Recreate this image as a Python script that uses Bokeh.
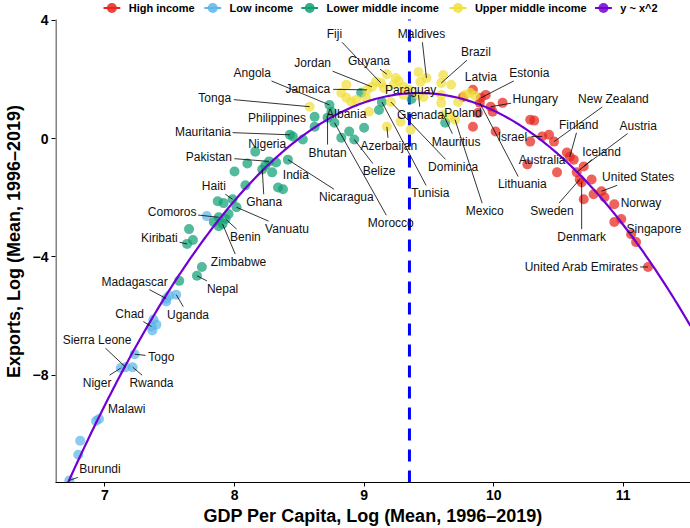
import numpy as np
from bokeh.plotting import figure
from bokeh.models import Range1d, FixedTicker
from bokeh.core.properties import value
from bokeh.embed import file_html
from bokeh.resources import INLINE

# ---------------- data ----------------
low_x = [6.725, 6.794, 6.809, 6.931, 6.954, 7.122, 7.160, 7.214, 7.229, 7.374, 7.397, 7.366, 7.359, 7.473, 7.496, 7.550, 7.473, 7.786]
low_y = [-11.56, -10.69, -10.22, -9.55, -9.48, -7.76, -7.73, -7.73, -7.29, -6.12, -6.29, -6.49, -6.35, -5.41, -5.31, -5.28, -5.51, -2.62]
low_country = ["Burundi", "", "", "", "Malawi", "Niger", "Sierra Leone", "Rwanda", "Togo", "", "", "", "Chad", "Madagascar", "", "Uganda", "", ""]

lmi_x = [7.573, 7.710, 7.748, 7.649, 7.679, 7.634, 7.840, 7.878, 7.908, 7.931, 7.954, 7.878, 7.870, 7.916, 7.985, 8.015,
         8.084, 8.000, 8.099, 8.214, 8.237, 8.267, 8.321, 8.290, 8.336, 8.374, 8.427, 8.450, 8.160, 8.412, 8.527, 8.618,
         8.618, 8.733, 8.718, 8.748, 8.771, 8.885, 8.924, 8.824, 9.000, 8.977, 9.115, 9.137, 9.366, 9.626]
lmi_y = [-4.81, -4.64, -4.34, -3.06, -3.43, -3.56, -2.82, -2.66, -2.89, -2.72, -2.55, -2.96, -2.12, -2.18, -2.05, -2.32,
         -1.58, -1.11, -0.84, -1.04, -0.91, -0.77, -0.81, -1.14, -1.65, -1.71, 0.13, 0.07, -0.44, -0.71, -0.03, 0.74,
         0.40, 1.14, 0.71, 0.91, 0.54, 0.24, -0.03, 0.03, 0.37, 1.55, 0.97, 1.24, 1.34, 0.54]
lmi_country = ["", "Nepal", "", "", "", "Kiribati", "", "Comoros", "Zimbabwe", "Benin", "", "", "", "", "Haiti", "Vanuatu",
               "", "", "", "Ghana", "", "Pakistan", "", "India", "", "", "Mauritania", "", "Nigeria", "Nicaragua", "", "Philippines",
               "", "Angola", "Bhutan", "Albania", "Morocco", "", "Belize", "", "", "", "", "Tunisia", "Paraguay", ""]

umi_x = [8.580, 8.863, 8.824, 8.863, 8.901, 8.939, 9.015, 9.023, 9.038, 9.061, 9.092, 9.130, 9.176, 9.244, 9.267, 9.229,
         9.153, 9.176, 9.206, 9.305, 9.420, 9.481, 9.435, 9.611, 9.595, 9.672, 9.344, 9.420, 9.305, 9.458, 9.595, 9.595,
         9.725, 9.779, 9.817, 9.855, 9.611, 9.672, 9.702, 9.282, 9.359]
umi_y = [1.08, 1.82, 1.55, 1.38, 1.24, 1.31, 1.38, 1.65, 0.91, 1.75, 1.92, 1.88, 2.18, 2.05, 1.95, 1.82,
         1.71, 0.40, 1.24, 1.75, 2.25, 2.05, 1.92, 2.15, 1.88, 1.82, 1.65, 1.48, 1.48, 1.41, 1.48, 1.21,
         1.24, 1.48, 1.55, 1.45, 0.81, 0.74, 0.64, 0.57, 0.30]
umi_country = ["Tonga", "", "", "", "", "", "", "Jamaica", "", "Jordan", "", "Fiji", "Guyana", "", "", "",
               "", "Azerbaijan", "Dominica", "", "", "Maldives", "", "", "Brazil", "", "", "Grenada", "", "", "", "",
               "", "", "", "", "Mauritius", "", "Mexico", "", ""]

high_x = [9.840, 9.763, 9.901, 9.939, 9.893, 9.977, 10.069, 9.992, 9.878, 9.840, 10.015, 10.282, 10.313, 10.282, 10.374,
          10.427, 10.466, 10.260, 10.565, 10.588, 10.618, 10.489, 10.641, 10.695, 10.664, 10.679, 10.756, 10.695, 10.771,
          10.832, 10.855, 10.931, 10.931, 10.985, 11.061, 11.099, 11.191]
high_y = [1.65, 1.41, 1.38, 1.48, 1.21, 1.08, 1.21, 0.91, 0.87, 0.40, 0.24, 0.64, 0.61, -0.10, 0.07,
          0.13, -0.10, -0.87, -0.47, -0.61, -0.71, -1.14, -1.14, -0.94, -1.38, -1.48, -1.38, -2.05, -1.88,
          -1.78, -1.98, -2.22, -2.82, -2.72, -3.23, -3.50, -4.34]
high_country = ["Latvia", "", "Estonia", "", "Lithuania", "Hungary", "", "", "Poland", "", "", "", "", "", "Israel",
                "", "New Zealand", "", "Australia", "Finland", "", "", "Iceland", "Austria", "Sweden", "Denmark", "", "", "",
                "United States", "", "Norway", "", "", "Singapore", "", "United Arab Emirates"]

turning_point = 9.35   # dashed reference line (x)

groups = ["High income", "Low income", "Lower middle income", "Upper middle income"]
fit_label = "y ~ x^2"
x_ticks = [7, 8, 9, 10, 11]
y_ticks = [-8, -4, 0, 4]
x_title = "GDP Per Capita, Log (Mean, 1996\u20132019)"
y_title = "Exports, Log (Mean, 1996\u20132019)"

# label text positions (layout, data units)
label_pos = {
    "Fiji": (8.771, 3.53), "Maldives": (9.443, 3.53), "Brazil": (9.863, 2.92), "Jordan": (8.603, 2.55),
    "Guyana": (9.038, 2.62), "Angola": (8.137, 2.22), "Jamaica": (8.565, 1.68), "Tonga": (7.847, 1.38),
    "Philippines": (8.328, 0.71), "Mauritania": (7.756, 0.24), "Nigeria": (8.252, -0.17), "Pakistan": (7.802, -0.61),
    "India": (8.473, -1.24), "Ghana": (8.229, -2.15), "Haiti": (7.840, -1.61), "Nicaragua": (8.863, -1.98),
    "Bhutan": (8.718, -0.47), "Albania": (8.863, 0.84), "Paraguay": (9.359, 1.65), "Grenada": (9.435, 0.81),
    "Azerbaijan": (9.191, -0.24), "Belize": (9.115, -1.11), "Tunisia": (9.511, -1.85), "Dominica": (9.687, -0.97),
    "Morocco": (9.206, -2.86), "Mauritius": (9.710, -0.10), "Poland": (9.763, 0.87), "Latvia": (9.901, 2.08),
    "Estonia": (10.275, 2.22), "Hungary": (10.321, 1.34), "Lithuania": (10.221, -1.55), "Mexico": (9.931, -2.45),
    "New Zealand": (10.924, 1.34), "Finland": (10.656, 0.47), "Israel": (10.145, 0.07), "Austria": (11.115, 0.44),
    "Iceland": (10.832, -0.44), "Australia": (10.374, -0.71), "United States": (11.115, -1.31), "Norway": (11.137, -2.18),
    "Sweden": (10.450, -2.45), "Denmark": (10.679, -3.33), "Singapore": (11.237, -3.06),
    "United Arab Emirates": (10.679, -4.34), "Comoros": (7.519, -2.49), "Kiribati": (7.420, -3.36),
    "Benin": (8.084, -3.33), "Zimbabwe": (8.031, -4.17), "Vanuatu": (8.405, -3.06), "Nepal": (7.908, -5.08),
    "Madagascar": (7.229, -4.84), "Uganda": (7.641, -5.95), "Chad": (7.191, -5.92), "Sierra Leone": (6.939, -6.82),
    "Togo": (7.435, -7.39), "Niger": (6.939, -8.27), "Rwanda": (7.359, -8.27), "Malawi": (7.168, -9.14),
    "Burundi": (6.962, -11.19),
}

# ---------------- style / layout ----------------
colors = {"High income": "#E8261C", "Low income": "#5DB5E8", "Lower middle income": "#10A074",
          "Upper middle income": "#F0DF3C"}
fit_color = "#7000D4"
FONT = "Liberation Sans"

W, H = 690, 528
BL, BR, BT, BB = 48, 0, 0, 43
FW, FH = W - BL - BR, H - BT - BB
PX_X = 131.0     # px per x unit
PX_Y = 29.75     # px per y unit
X0 = 7 - 50 / PX_X
X1 = X0 + FW / PX_X
Y_PANEL_TOP = 4.03
YT = 4 + 20 / PX_Y          # frame reaches canvas top (legend lives there)
Y0 = YT - FH / PX_Y

p = figure(width=W, height=H, output_backend="svg", toolbar_location=None,
           x_range=Range1d(X0, X1), y_range=Range1d(Y0, YT),
           min_border_left=BL, min_border_right=BR, min_border_top=BT, min_border_bottom=BB)
p.grid.visible = False
p.outline_line_color = None
p.background_fill_color = "white"
p.border_fill_color = "white"

for ax in (p.xaxis[0], p.yaxis[0]):
    ax.axis_line_color = "black"
    ax.axis_line_width = 1
    ax.major_tick_line_color = "black"
    ax.major_tick_out = 4
    ax.major_tick_in = 0
    ax.minor_tick_line_color = None
    ax.major_label_text_font = FONT
    ax.major_label_text_font_style = "bold"
    ax.major_label_text_font_size = "14px"
    ax.major_label_text_color = "black"
    ax.axis_label_text_font = FONT
    ax.axis_label_text_font_style = "bold"
    ax.axis_label_text_font_size = "18px"
    ax.axis_label_text_color = "black"
p.xaxis[0].ticker = FixedTicker(ticks=x_ticks)
p.yaxis[0].ticker = FixedTicker(ticks=y_ticks)
p.xaxis[0].axis_label = x_title
p.yaxis[0].axis_label = y_title
p.xaxis[0].major_label_standoff = 3
p.xaxis[0].axis_label_standoff = 3
p.yaxis[0].major_label_standoff = 3
p.yaxis[0].axis_label_standoff = 6
p.yaxis[0].axis_line_color = None

# y axis line only up to panel top
p.segment(x0=[X0 + 0.5 / PX_X], y0=[Y0], x1=[X0 + 0.5 / PX_X], y1=[Y_PANEL_TOP], line_color="black", line_width=1)

# quadratic fit from all points
all_x = np.array(high_x + low_x + lmi_x + umi_x)
all_y = np.array(high_y + low_y + lmi_y + umi_y)
coef = np.polyfit(all_x, all_y, 2)
gx = np.linspace(X0, X1, 300)
gy = np.polyval(coef, gx)

p.segment(x0=[turning_point], y0=[Y0], x1=[turning_point], y1=[Y_PANEL_TOP],
          line_color="#0000FF", line_width=3, line_dash="12 9")

data = {
    "High income": (high_x, high_y, high_country),
    "Low income": (low_x, low_y, low_country),
    "Lower middle income": (lmi_x, lmi_y, lmi_country),
    "Upper middle income": (umi_x, umi_y, umi_country),
}

for g in groups:
    xs, ys, cs = data[g]
    p.scatter(xs, ys, size=10, fill_color=colors[g], line_color=None, fill_alpha=0.72)

p.line(gx, gy, line_color=fit_color, line_width=2.2)

# ---- legend (drawn in the strip above the panel) ----
legend_key_px = [105, 207, 305, 455, 602]
leg_y = 4 + (20 - 7.5) / PX_Y
leg_names = groups + [fit_label]
leg_cols = [colors[g] for g in groups] + [fit_color]
kx = [X0 + (k - BL) / PX_X for k in legend_key_px]
half = 8.5 / PX_X
p.segment(x0=[k - half for k in kx], y0=[leg_y] * 5, x1=[k + half for k in kx], y1=[leg_y] * 5,
          line_color=leg_cols, line_width=2)
p.scatter(kx, [leg_y] * 5, size=10, fill_color=leg_cols, line_color=None, fill_alpha=0.85)
p.text(x=[k + 17 / PX_X for k in kx], y=[leg_y] * 5, text=leg_names, text_font=value(FONT),
       text_font_style="bold", text_font_size="11px", text_color="black",
       text_align="left", text_baseline="middle")

# ---- labels with repel-like segments ----
sx, sy = PX_X, PX_Y


def text_w(s, fs=12):
    w = 0
    for ch in s:
        if ch == " ":
            w += 0.28
        elif ch in "il":
            w += 0.23
        elif ch in "ftrj":
            w += 0.30
        elif ch in "mwMW":
            w += 0.85
        elif ch.isupper():
            w += 0.68
        else:
            w += 0.55
    return w * fs


lx, ly, lt = [], [], []
seg = {"x0": [], "y0": [], "x1": [], "y1": []}
for g in groups:
    xs, ys, cs = data[g]
    for x, y, c in zip(xs, ys, cs):
        if not c:
            continue
        tx, ty = label_pos[c]
        lx.append(tx)
        ly.append(ty)
        lt.append(c)
        dx = (x - tx) * sx
        dy = (y - ty) * sy
        hw = text_w(c) / 2 + 2
        hh = 8
        tb = min(hw / abs(dx) if dx else 1e9, hh / abs(dy) if dy else 1e9)
        dist = np.hypot(dx, dy)
        if tb >= 1 or (1 - tb) * dist < 7:
            continue
        seg["x0"].append(tx + dx * tb / sx)
        seg["y0"].append(ty + dy * tb / sy)
        seg["x1"].append(x)
        seg["y1"].append(y)

p.segment(x0=seg["x0"], y0=seg["y0"], x1=seg["x1"], y1=seg["y1"], line_color="black", line_width=0.8)
p.text(x=lx, y=ly, text=lt, text_font=value(FONT), text_font_size="12px", text_color="#111111",
       text_align="center", text_baseline="middle")

open("out.html", "w").write(file_html(p, INLINE))
